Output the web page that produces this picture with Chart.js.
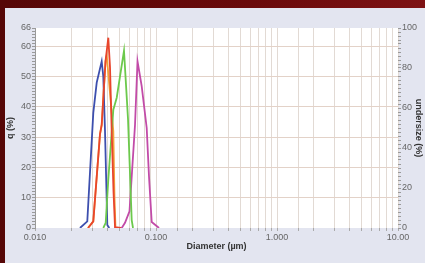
<!DOCTYPE html>
<html>
<head>
<meta charset="utf-8">
<script src="https://cdn.jsdelivr.net/npm/chart.js@4/dist/chart.umd.min.js"></script>
<style>
  html, body { margin: 0; padding: 0; }
  body {
    width: 425px; height: 263px; overflow: hidden; position: relative;
    background: linear-gradient(to right, #560707, #6a0a0b 60%, #7e1214);
  }
  #wrap {
    position: absolute; left: 5px; top: 8px; width: 420px; height: 255px;
    background: #e3e5f0;
  }
</style>
</head>
<body>
<div id="wrap"><canvas id="psd"></canvas></div>
<script>
// diameters (um) and frequency q (%), one pair per sample
const blueD = [0.02354, 0.02705, 0.03032, 0.03236, 0.03558, 0.03668, 0.03789, 0.03959, 0.04112];
const blueQ = [0, 2.2, 38, 48, 55, 50, 32, 1, 0];

const orangeD = [0.02742, 0.03032, 0.03445, 0.03558, 0.03825, 0.03914, 0.04438, 0.04540, 0.04628];
const orangeQ = [0, 2.2, 31, 34, 55, 57, 32, 10, 0];

const redD = [0.02742, 0.03032, 0.03445, 0.03558, 0.03825, 0.04035, 0.04168, 0.04305, 0.04455, 0.04584, 0.05137];
const redQ = [0, 2.2, 31, 34, 55, 62.8, 53, 32, 12, 0.3, 0];

const greenD = [0.03668, 0.03840, 0.04035, 0.04438, 0.04735, 0.05439, 0.05870, 0.06298, 0.06457];
const greenQ = [0, 1.7, 16, 39, 43, 58.5, 36, 2.6, 0];

const magentaD = [0.04523, 0.05206, 0.05544, 0.06039, 0.06707, 0.07034, 0.07616, 0.08379, 0.08754, 0.09215, 0.1059];
const magentaQ = [0, 0, 1.7, 5.5, 34, 55, 46.8, 33, 17, 2, 0];

const xMajorLabels = { '-2': '0.010', '-1': '0.100', '0': '1.000', '1': '10.00' };
const qTicks = [0, 10, 20, 30, 40, 50, 60, 66];
const undersizeTicks = [0, 20, 40, 60, 80, 100];

const pts = (d, q) => d.map((v, i) => ({ x: v, y: q[i] }));

const tickFont = { family: 'Liberation Sans, Arial, sans-serif', size: 9 };
const titleFont = { family: 'Liberation Sans, Arial, sans-serif', size: 9, weight: 'bold' };

const plotBg = {
    id: 'plotBg',
    beforeDraw: (chart) => {
        const a = chart.chartArea;
        const c = chart.ctx;
        c.save();
        c.fillStyle = '#ffffff';
        c.fillRect(a.left, a.top, a.right - a.left, a.bottom - a.top);
        c.restore();
    }
};

function line(data, color) {
    return { data: data, borderColor: color, borderWidth: 1.8, pointRadius: 0, tension: 0, fill: false };
}

// Chart.js paints the first dataset on top, so orange goes last (underneath red)
new Chart(document.getElementById('psd'), {
    type: 'line',
    data: {
        datasets: [
            line(pts(redD, redQ), '#e8452c'),
            line(pts(greenD, greenQ), '#6cc94c'),
            line(pts(blueD, blueQ), '#3d4fae'),
            line(pts(magentaD, magentaQ), '#c24ba8'),
            line(pts(orangeD, orangeQ), '#f2a23a')
        ]
    },
    options: {
        responsive: true,
        maintainAspectRatio: false,
        animation: false,
        layout: { padding: { top: 20, left: 0, right: 0, bottom: 0 } },
        plugins: { legend: { display: false }, tooltip: { enabled: false } },
        scales: {
            x: {
                type: 'logarithmic',
                min: 0.01,
                max: 10,
                afterFit: (s) => { s.height = 35; },
                border: { display: false },
                grid: { color: '#e2dad4', tickColor: '#aaaaaa', tickLength: 3 },
                ticks: {
                    autoSkip: false, maxRotation: 0, padding: 1,
                    color: '#666', font: tickFont,
                    callback: (v) => {
                        const l = Math.log10(v);
                        return Math.abs(l - Math.round(l)) < 1e-6 ? xMajorLabels[String(Math.round(l))] : '';
                    }
                },
                title: {
                    display: true, text: 'Diameter (\u00b5m)', color: '#333',
                    font: titleFont,
                    padding: { top: 0, bottom: 11 }
                }
            },
            y: {
                position: 'left',
                min: 0,
                max: 66,
                afterFit: (s) => { s.width = 30; },
                afterBuildTicks: (s) => {
                    const t = [];
                    for (let v = 0; v <= 66; v++) t.push({ value: v });
                    s.ticks = t;
                },
                border: { display: true, color: '#9a9a9a' },
                grid: {
                    color: (c) => (c.tick && c.tick.value % 10 === 0 && c.tick.value > 0 && c.tick.value < 66) ? '#e3d2c8' : 'rgba(0,0,0,0)',
                    tickColor: '#9a9a9a', tickLength: 3
                },
                ticks: {
                    autoSkip: false, padding: 1, color: '#666', font: tickFont,
                    callback: (v) => qTicks.includes(v) ? String(v) : ''
                },
                title: {
                    display: true, text: 'q (%)', color: '#333',
                    font: titleFont,
                    padding: 0
                }
            },
            y2: {
                position: 'right',
                min: 0,
                max: 100,
                afterFit: (s) => { s.width = 27; },
                afterBuildTicks: (s) => {
                    const t = [];
                    for (let v = 0; v <= 100; v += 2) t.push({ value: v });
                    s.ticks = t;
                },
                border: { display: false },
                grid: { drawOnChartArea: false, tickColor: '#9a9a9a', tickLength: 3 },
                ticks: {
                    autoSkip: false, padding: 1, color: '#666', font: tickFont,
                    callback: (v) => undersizeTicks.includes(v) ? String(v) : ''
                },
                title: {
                    display: true, text: 'undersize (%)', color: '#333',
                    font: titleFont,
                    padding: { top: 1, bottom: 0 }
                }
            }
        }
    },
    plugins: [plotBg]
});
</script>
</body>
</html>
